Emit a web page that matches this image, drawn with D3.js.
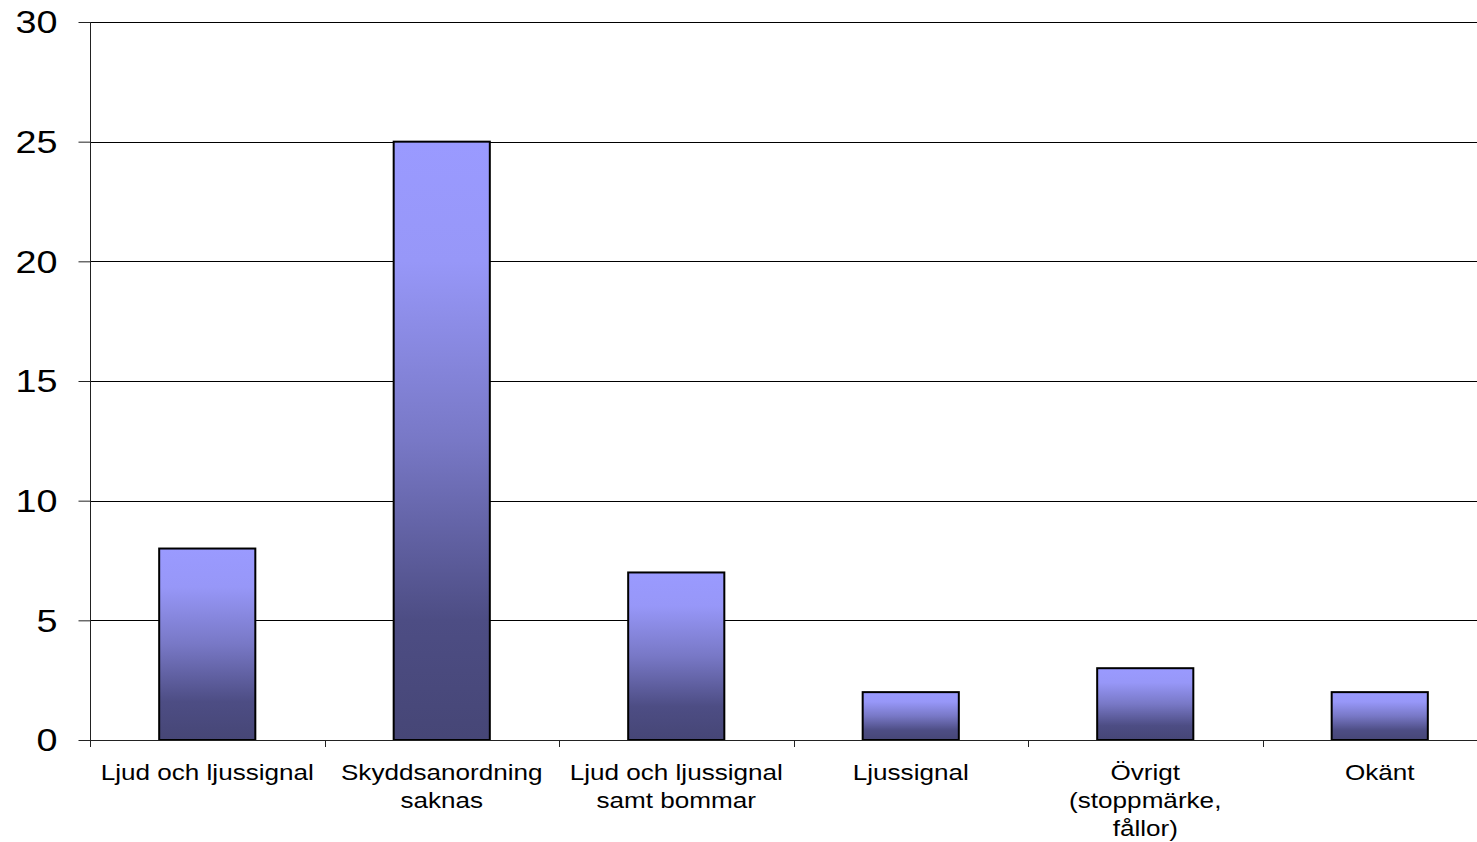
<!DOCTYPE html>
<html><head><meta charset="utf-8">
<script src="https://cdn.jsdelivr.net/npm/d3@7"></script>
<style>html,body{margin:0;padding:0;background:#fff;overflow:hidden}</style>
</head><body>
<svg id="c" width="1477" height="842"></svg>
<script>
const categories = [
  ["Ljud och ljussignal"],
  ["Skyddsanordning", "saknas"],
  ["Ljud och ljussignal", "samt bommar"],
  ["Ljussignal"],
  ["Övrigt", "(stoppmärke,", "fållor)"],
  ["Okänt"]
];
const values = [8, 25, 7, 2, 3, 2];
const yTicks = [0, 5, 10, 15, 20, 25, 30];

(function () {
const svg = d3.select("#c");
const mLeft = 90, mRight = 1497, mTop = 22, mBottom = 740;
const keys = categories.map(c => c.join(" "));
const x = d3.scaleBand().domain(keys).range([mLeft, mRight]).paddingInner(0.59).paddingOuter(0.295);
const y = d3.scaleLinear().domain([0, 30]).range([mBottom, mTop]);

const defs = svg.append("defs");
const g = defs.append("linearGradient").attr("id", "bg").attr("x1", 0).attr("y1", 0).attr("x2", 0).attr("y2", 1);
[[0, "#9a9aff"], [0.2, "#9797f8"], [0.5, "#7878c6"], [0.8, "#4d4d84"], [1, "#464676"]]
  .forEach(([o, c]) => g.append("stop").attr("offset", o).attr("stop-color", c));

// gridlines
svg.append("g").selectAll("line").data(yTicks.filter(t => t > 0)).join("line")
  .attr("x1", mLeft).attr("x2", mRight).attr("y1", d => Math.round(y(d)) + 0.5).attr("y2", d => Math.round(y(d)) + 0.5)
  .attr("stroke", "#000").attr("stroke-width", 1);

// y axis
const ya = svg.append("g").attr("transform", `translate(${mLeft + 0.5},0)`)
  .call(d3.axisLeft(y).tickValues(yTicks).tickSize(12).tickPadding(16));
ya.select(".domain").attr("stroke", "#222").attr("d", `M0,${y(30)}V${y(0)}`);
ya.selectAll(".tick line").attr("stroke", "#222");
ya.selectAll(".tick text").attr("font-family", "Liberation Sans, Arial, sans-serif")
  .attr("font-size", 32).attr("fill", "#000").attr("transform", "scale(1.18,1)").attr("dy", "0.34em");

// bars
svg.append("g").selectAll("rect").data(values).join("rect")
  .attr("x", (d, i) => x(keys[i]))
  .attr("width", x.bandwidth())
  .attr("y", d => y(d))
  .attr("height", d => y(0) - y(d))
  .attr("fill", "url(#bg)").attr("stroke", "#000").attr("stroke-width", 2);

// x axis line
svg.append("line").attr("x1", mLeft).attr("x2", mRight).attr("y1", mBottom + 0.5).attr("y2", mBottom + 0.5)
  .attr("stroke", "#222").attr("stroke-width", 1.2);

// boundary ticks
const bounds = keys.map(k => x(k) - x.step() * x.paddingInner() / 2);
svg.append("g").selectAll("line").data(bounds).join("line")
  .attr("x1", d => Math.round(d) + 0.5).attr("x2", d => Math.round(d) + 0.5)
  .attr("y1", mBottom).attr("y2", mBottom + 7).attr("stroke", "#222");

// category labels
const lab = svg.append("g").selectAll("g").data(categories).join("g")
  .attr("transform", (d, i) => `translate(${x(keys[i]) + x.bandwidth() / 2},780) scale(1.16,1)`);
lab.each(function(lines) {
  const t = d3.select(this).append("text").attr("text-anchor", "middle")
    .attr("font-family", "Liberation Sans, Arial, sans-serif").attr("font-size", 22.5).attr("fill", "#000");
  lines.forEach((l, j) => t.append("tspan").attr("x", 0).attr("y", j * 28).text(l));
});
})();
</script>
</body></html>
